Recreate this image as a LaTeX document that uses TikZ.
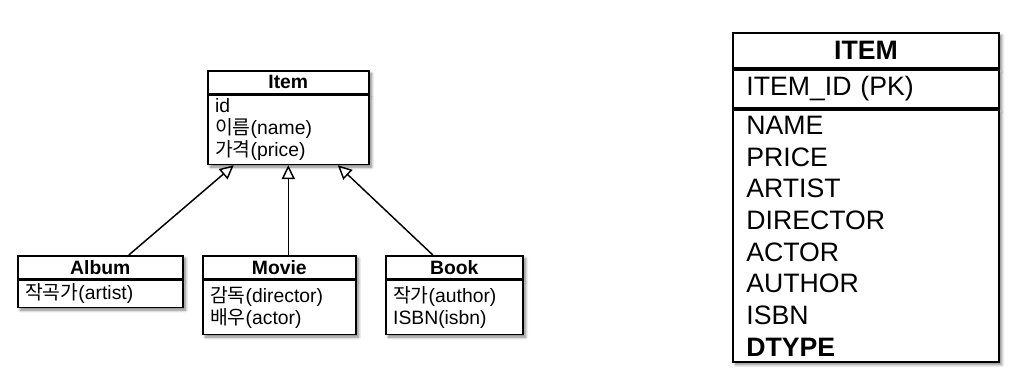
\documentclass[tikz,border=0pt]{standalone}
\usepackage{fontspec}
\setmainfont{Liberation Sans}
\newfontfamily\kr{Noto Sans CJK KR}
\usepackage{tikz}
\usetikzlibrary{arrows.meta,positioning,shadows.blur}

\begin{document}
\begin{tikzpicture}[
  x=0.75pt,y=-0.75pt,
  soft/.style={blur shadow={shadow xshift=2pt,shadow yshift=-2pt,
               shadow blur steps=6,shadow opacity=50}},
  classhead/.style={draw,line width=1.2pt,fill=white,soft,minimum width=#1,
                    minimum height=17.25pt,inner sep=0pt,
                    font=\fontsize{14.5}{16.5}\selectfont\bfseries},
  classbody/.style={draw,line width=1.2pt,fill=white,soft,text width=#1,
                    align=left,inner xsep=5.5pt,inner ysep=0pt,
                    font=\fontsize{14.5}{16.5}\selectfont},
  tablehead/.style={draw,line width=1.5pt,fill=white,soft,minimum width=199.5pt,
                    minimum height=26.25pt,inner sep=0pt,
                    font=\fontsize{20}{23.75}\selectfont\bfseries},
  tablerow/.style={draw,line width=1.5pt,fill=white,soft,text width=179.5pt,
                   align=left,inner xsep=10pt,inner ysep=0pt,
                   font=\fontsize{20}{23.75}\selectfont},
  inherit/.style={-{Triangle[open,length=10.5pt,width=10pt]},line width=1.1pt}
]
\useasboundingbox (0,0) rectangle (1019,378);

% object model
\node[classhead=120.75pt,anchor=north west] (itemhead) at (207,70) {Item};
\node[classbody=109.75pt,minimum height=51.75pt,below=0pt of itemhead] (itembody)
  {id\\{\kr 이름}(name)\\{\kr 가격}(price)};

\node[classhead=123.75pt,anchor=north west] (albumhead) at (17,255) {Album};
\node[classbody=112.75pt,minimum height=20.25pt,below=0pt of albumhead] (albumbody)
  {{\kr 작곡가}(artist)};

\node[classhead=114.75pt,anchor=north west] (moviehead) at (202,255) {Movie};
\node[classbody=103.75pt,minimum height=40.5pt,below=0pt of moviehead] (moviebody)
  {{\kr 감독}(director)\\{\kr 배우}(actor)};

\node[classhead=102.75pt,anchor=north west] (bookhead) at (385,255) {Book};
\node[classbody=91.75pt,minimum height=40.5pt,below=0pt of bookhead] (bookbody)
  {{\kr 작가}(author)\\ISBN(isbn)};

\draw[inherit] ([xshift=21.4pt]albumhead.north) -- ([xshift=-40.9pt]itembody.south);
\draw[inherit] (itembody.south |- moviehead.north) -- (itembody.south);
\draw[inherit] ([xshift=-16.1pt]bookhead.north) -- ([xshift=37.1pt]itembody.south);

% single table
\node[tablehead,anchor=north west] (tablename) at (732,32) {ITEM};
\node[tablerow,minimum height=28.5pt,below=0pt of tablename] (tablekey) {ITEM\_ID (PK)};
\node[tablerow,minimum height=189pt,below=0pt of tablekey] (tablecols)
  {NAME\\PRICE\\ARTIST\\DIRECTOR\\ACTOR\\AUTHOR\\ISBN\\\textbf{DTYPE}};
\end{tikzpicture}
\end{document}
